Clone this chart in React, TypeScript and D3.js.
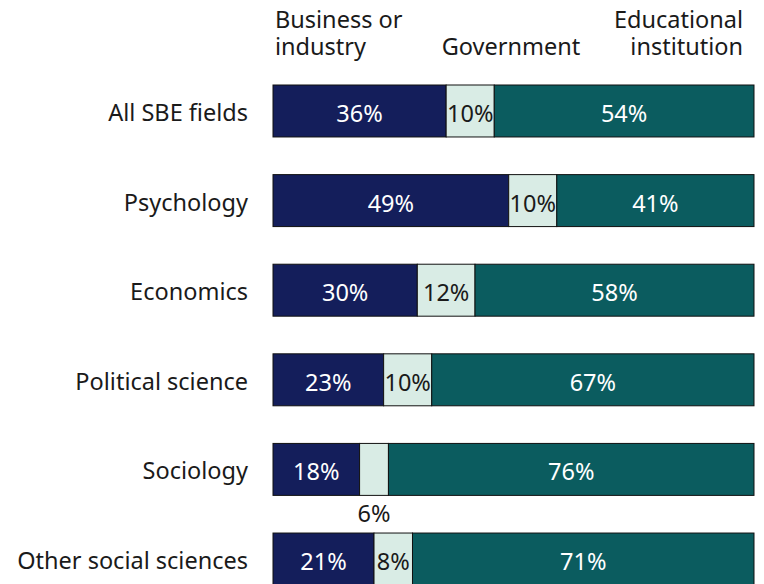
import React from "react";
import * as d3 from "d3";

const categories = ["All SBE fields", "Psychology", "Economics", "Political science", "Sociology", "Other social sciences"];
const business = [36, 49, 30, 23, 18, 21];
const government = [10, 10, 12, 10, 6, 8];
const education = [54, 41, 58, 67, 76, 71];
const seriesNames = ["Business or industry", "Government", "Educational institution"];
const colors = ["#141e5b", "#d9ece5", "#0b5c5f"];
const textColors = ["#ffffff", "#1a1a1a", "#ffffff"];

const W = 764, H = 584;
const FONT = "'Noto Sans', 'Open Sans', sans-serif";
const FS = 23.5;

export default function App() {
  const x = d3.scaleLinear().domain([0, 100]).range([273, 754]);
  const y = d3.scaleBand().domain(categories).range([85, 585]).paddingInner(0.42).paddingOuter(0);
  const rows = categories.map((c, i) => ({ cat: c, vals: [business[i], government[i], education[i]] }));
  const stacked = rows.map(r => {
    let acc = 0;
    return r.vals.map(v => { const s = acc; acc += v; return [s, acc, v]; });
  });
  const bh = y.bandwidth();
  return (
    <svg width={W} height={H} style={{ position: "absolute", left: 0, top: 0 }} fontFamily={FONT}>
      <rect width={W} height={H} fill="#fff" />
      <text x={275} y={28} fontSize={FS} fill="#1a1a1a">Business or</text>
      <text x={275} y={55} fontSize={FS} fill="#1a1a1a">industry</text>
      <text x={511} y={55} fontSize={FS} fill="#1a1a1a" textAnchor="middle">Government</text>
      <text x={743} y={28} fontSize={FS} fill="#1a1a1a" textAnchor="end">Educational</text>
      <text x={743} y={55} fontSize={FS} fill="#1a1a1a" textAnchor="end">institution</text>
      {rows.map((r, i) => {
        const y0 = y(r.cat)!;
        return (
          <g key={r.cat}>
            <text x={248} y={y0 + 36} fontSize={FS} fill="#1a1a1a" textAnchor="end">{r.cat}</text>
            {stacked[i].map(([s, e, v], j) => {
              const x0 = x(s), x1 = x(e);
              const small = (x1 - x0) < 34;
              return (
                <g key={j}>
                  <rect x={x0} y={y0} width={x1 - x0} height={bh} fill={colors[j]} stroke="#111" strokeWidth={1} />
                  {small ? (
                    <text x={(x0 + x1) / 2} y={y0 + bh + 27} fontSize={FS} fill="#1a1a1a" textAnchor="middle">{v}%</text>
                  ) : (
                    <text x={(x0 + x1) / 2} y={y0 + 37} fontSize={FS} fill={textColors[j]} textAnchor="middle">{v}%</text>
                  )}
                </g>
              );
            })}
          </g>
        );
      })}
    </svg>
  );
}
